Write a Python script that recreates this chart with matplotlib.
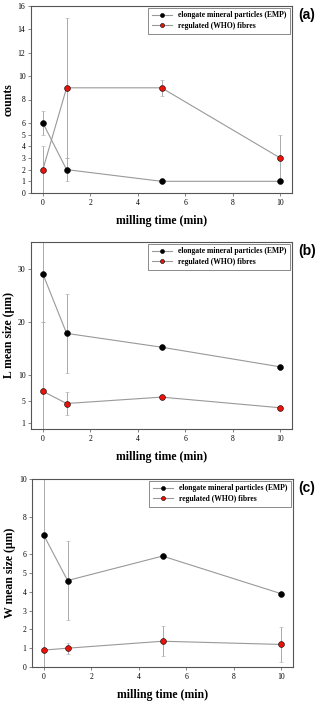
import matplotlib
matplotlib.use("Agg")
import matplotlib.pyplot as plt
import numpy as np

t = [0, 1, 5, 10]

# (a) counts
emp_counts = [6, 2, 1, 1]
emp_counts_err = [1, 1, 0, 0]
who_counts = [2, 9, 9, 3]
who_counts_err = [2, 6, 0.7, 2]

# (b) L mean size
emp_L = [29.0, 17.8, 15.2, 11.5]
emp_L_err = [9.0, 7.4, 0, 0]
who_L = [6.9, 4.6, 5.8, 3.8]
who_L_err = [13.0, 2.1, 0, 0]

# (c) W mean size
emp_W = [7.0, 4.6, 5.9, 3.9]
emp_W_err = [7.0, 2.1, 0, 0]
who_W = [0.9, 1.0, 1.37, 1.2]
who_W_err = [0.0, 0.3, 0.8, 0.92]

yticks_a = [0, 1, 2, 3, 4, 5, 6, 8, 10, 12, 14, 16]
yticks_b = [1, 5, 10, 20, 30]
yticks_c = [0, 1, 2, 3, 4, 5, 6, 8, 10]
xticks = [0, 2, 4, 6, 8, 10]

labels = ["elongate mineral particles (EMP)", "regulated (WHO) fibres"]
panel_labels = ["(a)", "(b)", "(c)"]
ylabels = ["counts", "L mean size (\u03bcm)", "W mean size (\u03bcm)"]

W, H = 320, 701
fig = plt.figure(figsize=(W / 100, H / 100), dpi=100)
serif = ["Liberation Serif", "DejaVu Serif"]

# axes boxes in pixel coords: left, top, right, bottom
boxes = [(31, 6, 292, 193), (31, 242, 292, 429), (32, 479, 293, 667)]
ylims = [(0, 16), (-0.2, 35), (0, 10)]
yticks_all = [yticks_a, yticks_b, yticks_c]
data = [
    (emp_counts, emp_counts_err, who_counts, who_counts_err),
    (emp_L, emp_L_err, who_L, who_L_err),
    (emp_W, emp_W_err, who_W, who_W_err),
]

for i in range(3):
    l, tp, r, b = boxes[i]
    ax = fig.add_axes([l / W, 1 - b / H, (r - l) / W, (b - tp) / H])
    e, ee, w, we = data[i]
    kw = dict(color="#999999", lw=0.8, elinewidth=0.7, capsize=1.5, capthick=0.6,
              ecolor="#aaaaaa", marker="o", ms=4.2, mec="black", mew=0.4)
    c1 = ax.errorbar(t, e, yerr=ee, mfc="black", label=labels[0], **kw)
    c2 = ax.errorbar(t, w, yerr=we, mfc="#e8140c", label=labels[1], **kw)
    ax.set_xlim(-0.5, 10.5)
    ax.set_ylim(*ylims[i])
    ax.set_xticks(xticks)
    ax.set_yticks(yticks_all[i])
    for s in ax.spines.values():
        s.set_color("#555555")
        s.set_linewidth(0.8)
    ax.tick_params(labelsize=5.5, length=2, width=0.5, color="#555555", pad=2)
    for lab in ax.get_xticklabels() + ax.get_yticklabels():
        lab.set_family(serif)
    ax.set_ylabel(ylabels[i], family=serif, fontweight="bold", fontsize=8.5, labelpad=2)
    ax.set_xlabel("milling time (min)", family=serif, fontweight="bold", fontsize=8.5, labelpad=6)
    leg = ax.legend(handles=[c1.lines[0], c2.lines[0]], labels=labels,
                    loc="upper right", prop={"family": serif, "size": 5.5, "weight": "bold"},
                    frameon=True, fancybox=False, borderpad=0.5, labelspacing=0.35,
                    handlelength=2.6, handletextpad=0.8, borderaxespad=0.2, markerscale=0.7)
    leg.get_frame().set_edgecolor("#555555")
    leg.get_frame().set_linewidth(0.6)
    fig.text(307 / W, 1 - (boxes[i][1] + 9) / H, panel_labels[i], ha="center", va="center",
             fontsize=10, fontweight="bold", family=["Liberation Sans", "DejaVu Sans"])

fig.savefig("out.png", dpi=100)
